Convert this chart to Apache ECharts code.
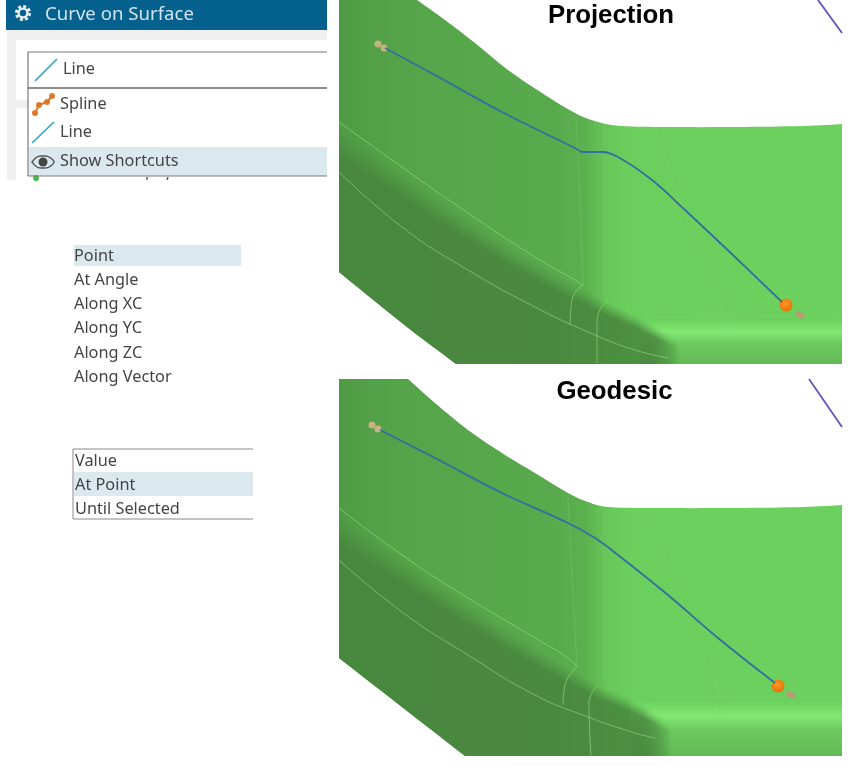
<!DOCTYPE html>
<html>
<head>
<meta charset="utf-8">
<title>Curve on Surface</title>
<script src="https://cdn.jsdelivr.net/npm/echarts@6/dist/echarts.min.js"></script>
<style>
html, body { margin: 0; padding: 0; background: #fff; }
#chart { width: 848px; height: 768px; filter: blur(0.5px); }
</style>
</head>
<body>
<div id="chart"></div>
<script>
// texts
var headerTitle = ["Curve on Surface"];
var comboLabels = ["Line", "Spline", "Line", "Show Shortcuts"];
var directionLabels = ["Point", "At Angle", "Along XC", "Along YC", "Along ZC", "Along Vector"];
var limitLabels = ["Value", "At Point", "Until Selected"];
var panelTitles = ["Projection", "Geodesic"];

// text anchors
var headerSpot = [[45, 14.5]];
var comboSpots = [[63, 69], [60, 104], [60, 132], [60, 161]];
var directionSpots = [[74, 256], [74, 280], [74, 304], [74, 328], [74, 353], [74, 377]];
var limitSpots = [[75, 461], [75, 485], [75, 509]];
var titleSpots = [[611, 16], [614.5, 392]];

// ui boxes: x0, y0, x1, y1
var headerBar = [6, 0, 327, 30];
var dialogBack = [7, 30, 327, 180];
var dialogInner = [16, 40, 327, 180];
var dialogStrip = [16, 100, 28, 108];
var comboBox = [28, 52, 327, 88];
var comboList = [28, 88, 327, 176];
var comboHighlight = [29, 147, 327, 176];
var pointHighlight = [74, 245, 241, 266];
var limitHighlight = [74, 472, 253, 496];
var limitFrame = [[253, 449], [73, 449], [73, 519], [253, 519]];
var comboFrame = [[327, 52], [28, 52], [28, 176], [327, 176]];
var comboDivider = [[28, 88], [327, 88]];
var clippedMarks = [[[147, 177], [147, 180]], [[168, 177], [167, 180]]];

// ui icons
var comboLineIcon = [[35, 81], [57, 59]];
var listLineIcon = [[32, 143], [54, 122]];
var splineIcon = [[35, 113], [39, 105], [47, 102], [52, 96]];
var eyeOutline = [[32, 162], [37, 157], [43, 156], [49, 157], [54, 162], [49, 167], [43, 168], [37, 167], [32, 162]];
var eyePupil = [[43, 162]];
var gearSpot = [[23, 13]];
var statusDot = [[36, 178]];

// projection panel
var topEdgeA = [[417, 0], [445, 20], [475, 43], [508, 70], [542, 93], [575, 113], [598, 122], [622, 126], [668, 127], [735, 127], [802, 126], [842, 124]];
var lowEdgeA = [[456, 364], [402, 323], [339, 272]];
var creaseA = [[339, 157], [402, 197], [468, 240], [535, 280], [602, 313], [648, 334], [680, 350]];
var brightA = [[640, 320], [702, 320], [842, 320], [842, 364], [640, 364]];
var edgesA = [
    [[339, 122], [402, 167], [468, 213], [535, 257], [575, 280], [583, 285]],
    [[339, 172], [402, 227], [468, 270], [535, 307], [595, 335], [635, 350], [668, 358]],
    [[583, 285], [572, 300], [570, 325]],
    [[608, 300], [597, 320], [597, 363]]
];
var faintEdgesA = [
    [[576, 117], [580, 200], [583, 285]],
    [[655, 128], [688, 223], [723, 317], [722, 343]],
    [[730, 318], [730, 343]],
    [[655, 318], [842, 315]]
];
var curveA = [[385, 48], [435, 75], [502, 112], [575, 148], [583, 152], [602, 152], [618, 157], [652, 180], [685, 210], [735, 257], [782, 302]];
var sphereA = [[786, 305]];
var ballsA = [[378, 44], [384, 48]];
var coneA = [[800, 315]];
var axisA = [[818, 0], [842, 33]];

// geodesic panel
var topEdgeB = [[408, 379], [435, 403], [468, 430], [502, 453], [535, 473], [568, 493], [588, 502], [608, 507], [652, 508], [735, 508], [802, 507], [842, 505]];
var lowEdgeB = [[465, 756], [402, 707], [339, 658]];
var creaseB = [[339, 545], [402, 583], [468, 625], [535, 665], [595, 697], [640, 716], [672, 734]];
var brightB = [[630, 701], [702, 701], [842, 701], [842, 756], [630, 756]];
var edgesB = [
    [[339, 508], [402, 555], [468, 598], [535, 638], [568, 658], [577, 667]],
    [[339, 560], [402, 612], [468, 655], [535, 695], [588, 717], [635, 733], [655, 738]],
    [[577, 667], [565, 685], [563, 705]],
    [[598, 685], [589, 703], [591, 756]]
];
var faintEdgesB = [
    [[568, 498], [572, 575], [577, 667]],
    [[648, 512], [682, 602], [717, 695], [715, 728]],
    [[722, 697], [722, 727]],
    [[655, 697], [842, 697]]
];
var curveB = [[380, 430], [435, 458], [502, 493], [568, 523], [595, 538], [618, 555], [668, 595], [718, 638], [775, 683]];
var sphereB = [[778, 686]];
var ballsB = [[372, 425], [378, 429]];
var coneB = [[791, 695]];
var axisB = [[809, 379], [842, 427]];

var chart = echarts.init(document.getElementById("chart"));
var LinearGradient = echarts.graphic.LinearGradient;
var RadialGradient = echarts.graphic.RadialGradient;
var series = [];

function corners(b) {
    return [[b[0], b[1]], [b[2], b[1]], [b[2], b[3]], [b[0], b[3]]];
}

// same idea as smooth:true on a line, for the polygon outlines
function curved(pts) {
    var out = [];
    for (var i = 0; i < pts.length - 1; i++) {
        var p0 = pts[Math.max(i - 1, 0)], p1 = pts[i], p2 = pts[i + 1], p3 = pts[Math.min(i + 2, pts.length - 1)];
        for (var k = 0; k < 8; k++) {
            var t = k / 8, a = t * t, b = a * t;
            out.push([0, 1].map(function (d) {
                return 0.5 * (2 * p1[d] + (p2[d] - p0[d]) * t + (2 * p0[d] - 5 * p1[d] + 4 * p2[d] - p3[d]) * a + (3 * p1[d] - p0[d] - 3 * p2[d] + p3[d]) * b);
            }));
        }
    }
    out.push(pts[pts.length - 1]);
    return out;
}

function addPolygon(points, style) {
    series.push({
        type: "custom",
        coordinateSystem: "cartesian2d",
        silent: true,
        data: [0],
        renderItem: function (params, api) {
            var pts = points.map(function (p) { return api.coord(p); });
            return { type: "polygon", shape: { points: pts }, style: style };
        }
    });
}

function addLine(points, color, width, smooth) {
    series.push({
        type: "line",
        silent: true,
        data: points,
        showSymbol: false,
        smooth: smooth || 0,
        lineStyle: { color: color, width: width }
    });
}

function addDots(points, size, color, symbol, rotate) {
    series.push({
        type: "scatter",
        silent: true,
        data: points,
        symbol: symbol || "circle",
        symbolSize: size,
        symbolRotate: rotate || 0,
        itemStyle: { color: color, opacity: 1 }
    });
}

function addTexts(labels, spots, font, color, align) {
    series.push({
        type: "custom",
        coordinateSystem: "cartesian2d",
        silent: true,
        data: labels.map(function (t, i) { return i; }),
        renderItem: function (params, api) {
            var i = params.dataIndex;
            var p = api.coord(spots[i]);
            return {
                type: "text",
                x: p[0],
                y: p[1],
                style: { text: labels[i], font: font, fill: color, align: align, verticalAlign: "middle" }
            };
        }
    });
}

function faceFill() {
    return new LinearGradient(339, 0, 842, 0, [
        { offset: 0, color: "#4f9b45" },
        { offset: 0.12, color: "#55a449" },
        { offset: 0.42, color: "#59a94d" },
        { offset: 0.49, color: "#5cb04f" },
        { offset: 0.53, color: "#67c659" },
        { offset: 0.58, color: "#6bcf5d" },
        { offset: 1, color: "#6bd15e" }
    ], true);
}

function addPanel(topEdge, lowEdge, crease, bright, edges, faintEdges, curve, sphere, balls, cone, axis) {
    var roofY = topEdge[0][1];
    var floorY = lowEdge[0][1];
    var face = [[339, roofY]].concat(curved(topEdge), [[842, floorY]], curved(lowEdge));
    addPolygon(face, { fill: faceFill() });

    // highlight strip on the right of the fillet
    addPolygon(bright, {
        fill: new LinearGradient(0, bright[0][1], 0, bright[3][1], [
            { offset: 0, color: "#6bd15e" },
            { offset: 0.27, color: "#82e872" },
            { offset: 0.55, color: "#6cc95e" },
            { offset: 1, color: "#63ba56" }
        ], true)
    });

    // dark underside, stacked so the crease looks soft; wider on the left
    var endX = crease[crease.length - 1][0];
    var rises = [27, 22, 17, 13, 9, 5, 1];
    var alphas = [0.12, 0.14, 0.16, 0.2, 0.24, 0.3, 0.4];
    var darkFill = new LinearGradient(endX - 28, 0, endX, 0, [
        { offset: 0, color: "rgba(70,131,60,1)" },
        { offset: 1, color: "rgba(70,131,60,0)" }
    ], true);
    var smoothCrease = curved(crease);
    rises.forEach(function (rise, i) {
        var upper = smoothCrease.map(function (p) {
            return [p[0], p[1] - rise * (1 - 0.65 * (p[0] - 339) / 341)];
        });
        addPolygon(upper.concat([[endX, floorY]], curved(lowEdge)), { fill: darkFill, opacity: alphas[i] });
    });

    edges.forEach(function (edge) {
        addLine(edge, "rgba(160,225,140,0.55)", 1, 0.5);
    });
    faintEdges.forEach(function (edge) {
        addLine(edge, "rgba(140,215,120,0.3)", 1, 0.5);
    });
    addLine(curve, "#336fa0", 1.8, 0.4);
    addLine(axis, "#5b55b8", 1.8);
    addDots(balls, 7, "#c9b184");
    addDots(cone, [11, 6], "#b89a74", "circle", -25);
    addDots(sphere, 13, new RadialGradient(0.45, 0.4, 0.6, [
        { offset: 0, color: "#ff9a26" },
        { offset: 1, color: "#e66f00" }
    ]));
}

// left side dialog
addPolygon(corners(headerBar), { fill: "#04608c" });
addPolygon(corners(dialogBack), { fill: "#f0f0f0" });
addPolygon(corners(dialogInner), { fill: "#ffffff" });
addPolygon(corners(dialogStrip), { fill: "#f0f0f0" });
addDots(statusDot, 6, "#3fc23f");
clippedMarks.forEach(function (mark) {
    addLine(mark, "#555555", 1.4);
});
addPolygon(corners(comboBox), { fill: "#ffffff" });
addPolygon(corners(comboList), { fill: "#ffffff" });
addPolygon(corners(comboHighlight), { fill: "#dbe9ef" });
addLine(comboFrame, "#7a7a7a", 1.2);
addLine(comboDivider, "#666666", 1.6);
addLine(comboLineIcon, "#2aa5c4", 1.6);
addLine(listLineIcon, "#2aa5c4", 1.6);
addLine(splineIcon, "#d9772a", 2);
addDots(splineIcon, 6, "#e07b2a");
addPolygon(curved(eyeOutline), { fill: "#dbe9ef", stroke: "#555555", lineWidth: 1.4 });
addDots(eyePupil, 9, "#444444");
series.push({
    type: "custom",
    coordinateSystem: "cartesian2d",
    silent: true,
    data: [0],
    renderItem: function (params, api) {
        var c = api.coord(gearSpot[0]);
        return {
            type: "group",
            children: [
                { type: "circle", shape: { cx: c[0], cy: c[1], r: 6.6 }, style: { fill: "none", stroke: "#e6f1f5", lineWidth: 3, lineDash: [3, 2.2] } },
                { type: "circle", shape: { cx: c[0], cy: c[1], r: 4.4 }, style: { fill: "none", stroke: "#e6f1f5", lineWidth: 2.4 } }
            ]
        };
    }
});
addTexts(headerTitle, headerSpot, "18.6px 'Noto Sans'", "#cfe4ee", "left");
addTexts(comboLabels, comboSpots, "16.3px 'Noto Sans'", "#444444", "left");

addPolygon(corners(pointHighlight), { fill: "#dbe9ef" });
addTexts(directionLabels, directionSpots, "16.3px 'Noto Sans'", "#444444", "left");

addPolygon(corners(limitHighlight), { fill: "#dbe9ef" });
addLine(limitFrame, "#8a8a8a", 1);
addTexts(limitLabels, limitSpots, "16.3px 'Noto Sans'", "#444444", "left");

// right side panels
addPanel(topEdgeA, lowEdgeA, creaseA, brightA, edgesA, faintEdgesA, curveA, sphereA, ballsA, coneA, axisA);
addPanel(topEdgeB, lowEdgeB, creaseB, brightB, edgesB, faintEdgesB, curveB, sphereB, ballsB, coneB, axisB);
addTexts(panelTitles, titleSpots, "bold 25.8px 'Liberation Sans'", "#000000", "center");

var option = {
    animation: false,
    backgroundColor: "#ffffff",
    grid: { left: 0, right: 0, top: 0, bottom: 0 },
    xAxis: { type: "value", min: 0, max: 848, show: false },
    yAxis: { type: "value", min: 0, max: 768, inverse: true, show: false },
    series: series
};
chart.setOption(option);
</script>
</body>
</html>
